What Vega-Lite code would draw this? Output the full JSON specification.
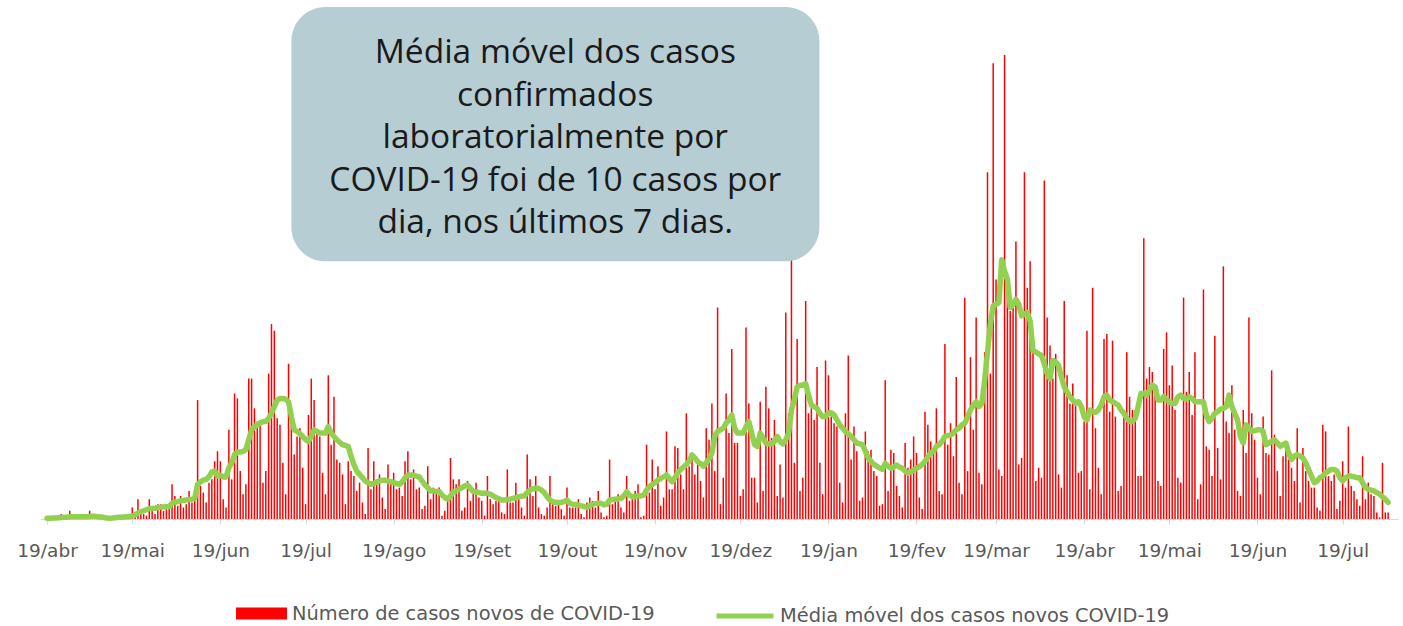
{
"$schema": "https://vega.github.io/schema/vega-lite/v6.json",
"width": 1358, "height": 512,
"autosize": "none",
"padding": {"left": 40, "top": 7, "right": 5, "bottom": 107},
"background": "white",
"config": {"view": {"stroke": null}, "font": "DejaVu Sans"},
"datasets": {"cases": [
{"d":"2020-04-19","c":1,"m":0.5},{"d":"2020-04-20","c":0,"m":0.5},{"d":"2020-04-21","c":1,"m":0.6},{"d":"2020-04-22","c":0,"m":0.6},{"d":"2020-04-23","c":1,"m":0.7},{"d":"2020-04-24","c":3,"m":0.9},{"d":"2020-04-25","c":0,"m":1},{"d":"2020-04-26","c":1,"m":1.1},{"d":"2020-04-27","c":5,"m":1.3},{"d":"2020-04-28","c":1,"m":1.4},{"d":"2020-04-29","c":0,"m":1.4},{"d":"2020-04-30","c":1,"m":1.4},
{"d":"2020-05-01","c":1,"m":1.4},{"d":"2020-05-02","c":0,"m":1.3},{"d":"2020-05-03","c":1,"m":1.3},{"d":"2020-05-04","c":5,"m":1.5},{"d":"2020-05-05","c":1,"m":1.6},{"d":"2020-05-06","c":3,"m":1.6},{"d":"2020-05-07","c":1,"m":1.4},{"d":"2020-05-08","c":0,"m":1.2},{"d":"2020-05-09","c":1,"m":0.9},{"d":"2020-05-10","c":0,"m":0.6},{"d":"2020-05-11","c":1,"m":0.5},{"d":"2020-05-12","c":1,"m":0.6},{"d":"2020-05-13","c":0,"m":0.8},{"d":"2020-05-14","c":1,"m":1},{"d":"2020-05-15","c":2,"m":1.1},{"d":"2020-05-16","c":1,"m":1.2},{"d":"2020-05-17","c":2,"m":1.3},{"d":"2020-05-18","c":1,"m":1.4},{"d":"2020-05-19","c":7,"m":1.8},{"d":"2020-05-20","c":3,"m":2.6},{"d":"2020-05-21","c":12,"m":3.6},{"d":"2020-05-22","c":4,"m":4.4},{"d":"2020-05-23","c":3,"m":5},{"d":"2020-05-24","c":2,"m":5.6},{"d":"2020-05-25","c":12,"m":6.2},{"d":"2020-05-26","c":5,"m":6.4},{"d":"2020-05-27","c":3,"m":6.5},{"d":"2020-05-28","c":9,"m":7},{"d":"2020-05-29","c":9,"m":7.2},{"d":"2020-05-30","c":5,"m":7.3},{"d":"2020-05-31","c":6,"m":7.4},
{"d":"2020-06-01","c":6,"m":7.5},{"d":"2020-06-02","c":21,"m":9.5},{"d":"2020-06-03","c":14,"m":10.3},{"d":"2020-06-04","c":8,"m":10.5},{"d":"2020-06-05","c":14,"m":11},{"d":"2020-06-06","c":7,"m":11.2},{"d":"2020-06-07","c":9,"m":11.5},{"d":"2020-06-08","c":17,"m":11.8},{"d":"2020-06-09","c":10,"m":12},{"d":"2020-06-10","c":11,"m":12.5},{"d":"2020-06-11","c":72,"m":21},{"d":"2020-06-12","c":20,"m":22.5},{"d":"2020-06-13","c":16,"m":23.5},{"d":"2020-06-14","c":10,"m":24},{"d":"2020-06-15","c":22,"m":25.5},{"d":"2020-06-16","c":24,"m":28.5},{"d":"2020-06-17","c":35,"m":29},{"d":"2020-06-18","c":41,"m":26},{"d":"2020-06-19","c":35,"m":26.5},{"d":"2020-06-20","c":12,"m":25.5},{"d":"2020-06-21","c":7,"m":25.5},{"d":"2020-06-22","c":54,"m":31},{"d":"2020-06-23","c":24,"m":34},{"d":"2020-06-24","c":76,"m":39},{"d":"2020-06-25","c":73,"m":40.5},{"d":"2020-06-26","c":29,"m":40.5},{"d":"2020-06-27","c":15,"m":41},{"d":"2020-06-28","c":21,"m":42},{"d":"2020-06-29","c":85,"m":48},{"d":"2020-06-30","c":85,"m":54},
{"d":"2020-07-01","c":67,"m":56},{"d":"2020-07-02","c":59,"m":57},{"d":"2020-07-03","c":60,"m":58},{"d":"2020-07-04","c":22,"m":59},{"d":"2020-07-05","c":29,"m":59},{"d":"2020-07-06","c":88,"m":61},{"d":"2020-07-07","c":118,"m":64},{"d":"2020-07-08","c":114,"m":68},{"d":"2020-07-09","c":61,"m":72},{"d":"2020-07-10","c":57,"m":73},{"d":"2020-07-11","c":34,"m":73},{"d":"2020-07-12","c":15,"m":72.5},{"d":"2020-07-13","c":94,"m":71},{"d":"2020-07-14","c":57,"m":62},{"d":"2020-07-15","c":39,"m":54},{"d":"2020-07-16","c":50,"m":53},{"d":"2020-07-17","c":55,"m":51.5},{"d":"2020-07-18","c":31,"m":50},{"d":"2020-07-19","c":9,"m":48},{"d":"2020-07-20","c":63,"m":47},{"d":"2020-07-21","c":85,"m":50},{"d":"2020-07-22","c":72,"m":54},{"d":"2020-07-23","c":52,"m":53},{"d":"2020-07-24","c":50,"m":52},{"d":"2020-07-25","c":28,"m":52},{"d":"2020-07-26","c":15,"m":52},{"d":"2020-07-27","c":87,"m":56},{"d":"2020-07-28","c":45,"m":52},{"d":"2020-07-29","c":74,"m":50},{"d":"2020-07-30","c":36,"m":48},{"d":"2020-07-31","c":34,"m":46.5},
{"d":"2020-08-01","c":27,"m":45},{"d":"2020-08-02","c":9,"m":44.5},{"d":"2020-08-03","c":35,"m":44},{"d":"2020-08-04","c":29,"m":38},{"d":"2020-08-05","c":26,"m":33},{"d":"2020-08-06","c":17,"m":29},{"d":"2020-08-07","c":22,"m":27},{"d":"2020-08-08","c":10,"m":25},{"d":"2020-08-09","c":3,"m":23},{"d":"2020-08-10","c":43,"m":22},{"d":"2020-08-11","c":18,"m":21},{"d":"2020-08-12","c":35,"m":21.5},{"d":"2020-08-13","c":24,"m":22.5},{"d":"2020-08-14","c":27,"m":23},{"d":"2020-08-15","c":13,"m":23.5},{"d":"2020-08-16","c":6,"m":23.5},{"d":"2020-08-17","c":33,"m":23},{"d":"2020-08-18","c":22,"m":22.6},{"d":"2020-08-19","c":28,"m":22},{"d":"2020-08-20","c":18,"m":21.5},{"d":"2020-08-21","c":19,"m":21},{"d":"2020-08-22","c":14,"m":22.5},{"d":"2020-08-23","c":35,"m":25},{"d":"2020-08-24","c":41,"m":26.5},{"d":"2020-08-25","c":24,"m":26.7},{"d":"2020-08-26","c":30,"m":26.5},{"d":"2020-08-27","c":18,"m":26},{"d":"2020-08-28","c":19,"m":25.5},{"d":"2020-08-29","c":6,"m":23},{"d":"2020-08-30","c":8,"m":20.6},{"d":"2020-08-31","c":32,"m":19},
{"d":"2020-09-01","c":12,"m":17},{"d":"2020-09-02","c":19,"m":17},{"d":"2020-09-03","c":17,"m":16.6},{"d":"2020-09-04","c":19,"m":16.6},{"d":"2020-09-05","c":2,"m":14.5},{"d":"2020-09-06","c":5,"m":13},{"d":"2020-09-07","c":11,"m":12},{"d":"2020-09-08","c":37,"m":14},{"d":"2020-09-09","c":24,"m":16.6},{"d":"2020-09-10","c":21,"m":17},{"d":"2020-09-11","c":24,"m":18},{"d":"2020-09-12","c":5,"m":19},{"d":"2020-09-13","c":7,"m":20},{"d":"2020-09-14","c":23,"m":20.6},{"d":"2020-09-15","c":11,"m":18.5},{"d":"2020-09-16","c":18,"m":16.6},{"d":"2020-09-17","c":22,"m":16.3},{"d":"2020-09-18","c":13,"m":16},{"d":"2020-09-19","c":11,"m":15.6},{"d":"2020-09-20","c":2,"m":15.6},{"d":"2020-09-21","c":26,"m":15.6},{"d":"2020-09-22","c":12,"m":15},{"d":"2020-09-23","c":9,"m":14},{"d":"2020-09-24","c":11,"m":13},{"d":"2020-09-25","c":11,"m":12.3},{"d":"2020-09-26","c":4,"m":11.5},{"d":"2020-09-27","c":3,"m":11.5},{"d":"2020-09-28","c":30,"m":11.8},{"d":"2020-09-29","c":10,"m":12},{"d":"2020-09-30","c":10,"m":12.5},
{"d":"2020-10-01","c":22,"m":13},{"d":"2020-10-02","c":12,"m":13.5},{"d":"2020-10-03","c":7,"m":13.8},{"d":"2020-10-04","c":2,"m":14},{"d":"2020-10-05","c":39,"m":16},{"d":"2020-10-06","c":24,"m":17.5},{"d":"2020-10-07","c":14,"m":18.3},{"d":"2020-10-08","c":26,"m":18.6},{"d":"2020-10-09","c":7,"m":18.5},{"d":"2020-10-10","c":3,"m":17.5},{"d":"2020-10-11","c":2,"m":16},{"d":"2020-10-12","c":7,"m":13.5},{"d":"2020-10-13","c":26,"m":11.5},{"d":"2020-10-14","c":9,"m":10.5},{"d":"2020-10-15","c":8,"m":10},{"d":"2020-10-16","c":9,"m":10},{"d":"2020-10-17","c":6,"m":10},{"d":"2020-10-18","c":2,"m":10.5},{"d":"2020-10-19","c":19,"m":11.5},{"d":"2020-10-20","c":7,"m":9.5},{"d":"2020-10-21","c":7,"m":9},{"d":"2020-10-22","c":7,"m":8.8},{"d":"2020-10-23","c":12,"m":8.5},{"d":"2020-10-24","c":3,"m":8},{"d":"2020-10-25","c":1,"m":7.5},{"d":"2020-10-26","c":10,"m":7},{"d":"2020-10-27","c":13,"m":8},{"d":"2020-10-28","c":11,"m":9},{"d":"2020-10-29","c":7,"m":9.3},{"d":"2020-10-30","c":17,"m":9.5},{"d":"2020-10-31","c":4,"m":9.5},
{"d":"2020-11-01","c":1,"m":8.5},{"d":"2020-11-02","c":2,"m":9},{"d":"2020-11-03","c":36,"m":11.5},{"d":"2020-11-04","c":9,"m":11.8},{"d":"2020-11-05","c":13,"m":12},{"d":"2020-11-06","c":15,"m":12.2},{"d":"2020-11-07","c":7,"m":12.5},{"d":"2020-11-08","c":4,"m":14},{"d":"2020-11-09","c":26,"m":16.5},{"d":"2020-11-10","c":11,"m":14.5},{"d":"2020-11-11","c":13,"m":13.5},{"d":"2020-11-12","c":17,"m":13.5},{"d":"2020-11-13","c":21,"m":14},{"d":"2020-11-14","c":1,"m":14},{"d":"2020-11-15","c":2,"m":14.5},{"d":"2020-11-16","c":45,"m":17.5},{"d":"2020-11-17","c":16,"m":19.5},{"d":"2020-11-18","c":36,"m":21},{"d":"2020-11-19","c":18,"m":22},{"d":"2020-11-20","c":32,"m":23.5},{"d":"2020-11-21","c":8,"m":24.6},{"d":"2020-11-22","c":13,"m":25.5},{"d":"2020-11-23","c":53,"m":26.7},{"d":"2020-11-24","c":18,"m":24.5},{"d":"2020-11-25","c":18,"m":22.6},{"d":"2020-11-26","c":44,"m":25},{"d":"2020-11-27","c":43,"m":28},{"d":"2020-11-28","c":27,"m":30},{"d":"2020-11-29","c":18,"m":31.5},{"d":"2020-11-30","c":64,"m":33},
{"d":"2020-12-01","c":32,"m":35},{"d":"2020-12-02","c":36,"m":38.8},{"d":"2020-12-03","c":27,"m":37},{"d":"2020-12-04","c":33,"m":34.7},{"d":"2020-12-05","c":23,"m":33.5},{"d":"2020-12-06","c":13,"m":32},{"d":"2020-12-07","c":55,"m":34},{"d":"2020-12-08","c":48,"m":36.5},{"d":"2020-12-09","c":70,"m":40},{"d":"2020-12-10","c":29,"m":50},{"d":"2020-12-11","c":128,"m":53},{"d":"2020-12-12","c":9,"m":54},{"d":"2020-12-13","c":25,"m":55},{"d":"2020-12-14","c":76,"m":58},{"d":"2020-12-15","c":52,"m":60},{"d":"2020-12-16","c":103,"m":63},{"d":"2020-12-17","c":46,"m":55},{"d":"2020-12-18","c":46,"m":52},{"d":"2020-12-19","c":14,"m":52},{"d":"2020-12-20","c":18,"m":52},{"d":"2020-12-21","c":116,"m":56},{"d":"2020-12-22","c":70,"m":59},{"d":"2020-12-23","c":25,"m":52},{"d":"2020-12-24","c":25,"m":45},{"d":"2020-12-25","c":10,"m":44},{"d":"2020-12-26","c":71,"m":52},{"d":"2020-12-27","c":17,"m":49},{"d":"2020-12-28","c":80,"m":46},{"d":"2020-12-29","c":67,"m":45.5},{"d":"2020-12-30","c":49,"m":45.5},{"d":"2020-12-31","c":60,"m":47},
{"d":"2021-01-01","c":14,"m":50},{"d":"2021-01-02","c":33,"m":47},{"d":"2021-01-03","c":13,"m":45.5},{"d":"2021-01-04","c":125,"m":48},{"d":"2021-01-05","c":64,"m":52},{"d":"2021-01-06","c":157,"m":66},{"d":"2021-01-07","c":34,"m":72},{"d":"2021-01-08","c":109,"m":80},{"d":"2021-01-09","c":17,"m":81},{"d":"2021-01-10","c":25,"m":81},{"d":"2021-01-11","c":132,"m":82},{"d":"2021-01-12","c":64,"m":75},{"d":"2021-01-13","c":67,"m":69},{"d":"2021-01-14","c":60,"m":68},{"d":"2021-01-15","c":92,"m":67},{"d":"2021-01-16","c":34,"m":64},{"d":"2021-01-17","c":15,"m":62},{"d":"2021-01-18","c":96,"m":62},{"d":"2021-01-19","c":87,"m":64},{"d":"2021-01-20","c":62,"m":64.4},{"d":"2021-01-21","c":58,"m":63},{"d":"2021-01-22","c":56,"m":60},{"d":"2021-01-23","c":22,"m":57},{"d":"2021-01-24","c":10,"m":55},{"d":"2021-01-25","c":64,"m":53},{"d":"2021-01-26","c":99,"m":51.5},{"d":"2021-01-27","c":36,"m":50},{"d":"2021-01-28","c":56,"m":48},{"d":"2021-01-29","c":41,"m":46},{"d":"2021-01-30","c":11,"m":45.5},{"d":"2021-01-31","c":13,"m":45},
{"d":"2021-02-01","c":53,"m":41},{"d":"2021-02-02","c":41,"m":37},{"d":"2021-02-03","c":42,"m":35},{"d":"2021-02-04","c":29,"m":33},{"d":"2021-02-05","c":26,"m":32},{"d":"2021-02-06","c":8,"m":31},{"d":"2021-02-07","c":9,"m":30},{"d":"2021-02-08","c":84,"m":33.7},{"d":"2021-02-09","c":17,"m":32},{"d":"2021-02-10","c":42,"m":30.7},{"d":"2021-02-11","c":40,"m":31.5},{"d":"2021-02-12","c":20,"m":32.7},{"d":"2021-02-13","c":14,"m":31.5},{"d":"2021-02-14","c":7,"m":30.7},{"d":"2021-02-15","c":46,"m":29},{"d":"2021-02-16","c":31,"m":27.7},{"d":"2021-02-17","c":36,"m":28.5},{"d":"2021-02-18","c":50,"m":29.7},{"d":"2021-02-19","c":40,"m":30.7},{"d":"2021-02-20","c":13,"m":31.7},{"d":"2021-02-21","c":6,"m":33},{"d":"2021-02-22","c":65,"m":35},{"d":"2021-02-23","c":57,"m":37.5},{"d":"2021-02-24","c":47,"m":40},{"d":"2021-02-25","c":40,"m":41},{"d":"2021-02-26","c":67,"m":44},{"d":"2021-02-27","c":17,"m":45},{"d":"2021-02-28","c":15,"m":47},
{"d":"2021-03-01","c":106,"m":50},{"d":"2021-03-02","c":45,"m":50.5},{"d":"2021-03-03","c":58,"m":51},{"d":"2021-03-04","c":38,"m":52},{"d":"2021-03-05","c":86,"m":54},{"d":"2021-03-06","c":22,"m":55},{"d":"2021-03-07","c":15,"m":57},{"d":"2021-03-08","c":134,"m":58},{"d":"2021-03-09","c":29,"m":62},{"d":"2021-03-10","c":98,"m":66},{"d":"2021-03-11","c":54,"m":69},{"d":"2021-03-12","c":122,"m":71},{"d":"2021-03-13","c":28,"m":68},{"d":"2021-03-14","c":21,"m":70},{"d":"2021-03-15","c":101,"m":84},{"d":"2021-03-16","c":210,"m":101},{"d":"2021-03-17","c":88,"m":118},{"d":"2021-03-18","c":276,"m":129},{"d":"2021-03-19","c":145,"m":130},{"d":"2021-03-20","c":30,"m":131},{"d":"2021-03-21","c":26,"m":157},{"d":"2021-03-22","c":281,"m":150},{"d":"2021-03-23","c":149,"m":145},{"d":"2021-03-24","c":126,"m":128},{"d":"2021-03-25","c":131,"m":130},{"d":"2021-03-26","c":168,"m":133},{"d":"2021-03-27","c":33,"m":130},{"d":"2021-03-28","c":37,"m":123},{"d":"2021-03-29","c":210,"m":124},{"d":"2021-03-30","c":140,"m":125},{"d":"2021-03-31","c":156,"m":120},
{"d":"2021-04-01","c":102,"m":102},{"d":"2021-04-02","c":23,"m":101},{"d":"2021-04-03","c":31,"m":100},{"d":"2021-04-04","c":25,"m":99},{"d":"2021-04-05","c":205,"m":94},{"d":"2021-04-06","c":122,"m":88},{"d":"2021-04-07","c":105,"m":85},{"d":"2021-04-08","c":85,"m":96},{"d":"2021-04-09","c":100,"m":95},{"d":"2021-04-10","c":27,"m":93},{"d":"2021-04-11","c":19,"m":86},{"d":"2021-04-12","c":132,"m":80},{"d":"2021-04-13","c":87,"m":77},{"d":"2021-04-14","c":70,"m":74},{"d":"2021-04-15","c":82,"m":72},{"d":"2021-04-16","c":70,"m":70},{"d":"2021-04-17","c":28,"m":71},{"d":"2021-04-18","c":29,"m":68},{"d":"2021-04-19","c":59,"m":62},{"d":"2021-04-20","c":114,"m":60},{"d":"2021-04-21","c":18,"m":66},{"d":"2021-04-22","c":140,"m":65},{"d":"2021-04-23","c":55,"m":64.5},{"d":"2021-04-24","c":31,"m":66},{"d":"2021-04-25","c":15,"m":69},{"d":"2021-04-26","c":109,"m":74},{"d":"2021-04-27","c":112,"m":75},{"d":"2021-04-28","c":65,"m":72},{"d":"2021-04-29","c":108,"m":71},{"d":"2021-04-30","c":62,"m":70},
{"d":"2021-05-01","c":17,"m":69},{"d":"2021-05-02","c":20,"m":66},{"d":"2021-05-03","c":64,"m":64},{"d":"2021-05-04","c":101,"m":61},{"d":"2021-05-05","c":74,"m":59},{"d":"2021-05-06","c":66,"m":59},{"d":"2021-05-07","c":66,"m":61},{"d":"2021-05-08","c":26,"m":68},{"d":"2021-05-09","c":26,"m":76},{"d":"2021-05-10","c":170,"m":76},{"d":"2021-05-11","c":85,"m":75},{"d":"2021-05-12","c":92,"m":78},{"d":"2021-05-13","c":89,"m":81},{"d":"2021-05-14","c":80,"m":80},{"d":"2021-05-15","c":23,"m":72},{"d":"2021-05-16","c":20,"m":72},{"d":"2021-05-17","c":103,"m":74},{"d":"2021-05-18","c":113,"m":72},{"d":"2021-05-19","c":81,"m":71},{"d":"2021-05-20","c":93,"m":70},{"d":"2021-05-21","c":66,"m":70},{"d":"2021-05-22","c":25,"m":74},{"d":"2021-05-23","c":22,"m":75},{"d":"2021-05-24","c":134,"m":73},{"d":"2021-05-25","c":77,"m":72.5},{"d":"2021-05-26","c":89,"m":74},{"d":"2021-05-27","c":63,"m":73},{"d":"2021-05-28","c":101,"m":71},{"d":"2021-05-29","c":12,"m":71},{"d":"2021-05-30","c":21,"m":71},{"d":"2021-05-31","c":139,"m":71},
{"d":"2021-06-01","c":44,"m":63},{"d":"2021-06-02","c":42,"m":59},{"d":"2021-06-03","c":26,"m":61},{"d":"2021-06-04","c":111,"m":64},{"d":"2021-06-05","c":43,"m":65},{"d":"2021-06-06","c":24,"m":66.5},{"d":"2021-06-07","c":153,"m":67},{"d":"2021-06-08","c":59,"m":68},{"d":"2021-06-09","c":52,"m":75},{"d":"2021-06-10","c":81,"m":68},{"d":"2021-06-11","c":54,"m":64},{"d":"2021-06-12","c":17,"m":60},{"d":"2021-06-13","c":14,"m":50},{"d":"2021-06-14","c":66,"m":46},{"d":"2021-06-15","c":40,"m":57},{"d":"2021-06-16","c":122,"m":55},{"d":"2021-06-17","c":64,"m":53},{"d":"2021-06-18","c":48,"m":53.5},{"d":"2021-06-19","c":25,"m":54},{"d":"2021-06-20","c":15,"m":54},{"d":"2021-06-21","c":62,"m":53},{"d":"2021-06-22","c":40,"m":45},{"d":"2021-06-23","c":39,"m":46},{"d":"2021-06-24","c":90,"m":47},{"d":"2021-06-25","c":51,"m":48},{"d":"2021-06-26","c":29,"m":46},{"d":"2021-06-27","c":14,"m":44},{"d":"2021-06-28","c":38,"m":45},{"d":"2021-06-29","c":42,"m":46},{"d":"2021-06-30","c":36,"m":40},
{"d":"2021-07-01","c":31,"m":36},{"d":"2021-07-02","c":23,"m":38},{"d":"2021-07-03","c":55,"m":39},{"d":"2021-07-04","c":10,"m":38},{"d":"2021-07-05","c":43,"m":37},{"d":"2021-07-06","c":29,"m":34},{"d":"2021-07-07","c":23,"m":30},{"d":"2021-07-08","c":19,"m":26},{"d":"2021-07-09","c":19,"m":22},{"d":"2021-07-10","c":7,"m":23},{"d":"2021-07-11","c":5,"m":25},{"d":"2021-07-12","c":57,"m":26},{"d":"2021-07-13","c":53,"m":28},{"d":"2021-07-14","c":26,"m":29},{"d":"2021-07-15","c":23,"m":30},{"d":"2021-07-16","c":27,"m":30},{"d":"2021-07-17","c":6,"m":29},{"d":"2021-07-18","c":11,"m":25},{"d":"2021-07-19","c":35,"m":23},{"d":"2021-07-20","c":19,"m":25},{"d":"2021-07-21","c":56,"m":26},{"d":"2021-07-22","c":20,"m":26},{"d":"2021-07-23","c":17,"m":25.5},{"d":"2021-07-24","c":12,"m":25},{"d":"2021-07-25","c":8,"m":25},{"d":"2021-07-26","c":38,"m":22},{"d":"2021-07-27","c":12,"m":19},{"d":"2021-07-28","c":22,"m":18},{"d":"2021-07-29","c":15,"m":17.5},{"d":"2021-07-30","c":14,"m":17},{"d":"2021-07-31","c":4,"m":16},
{"d":"2021-08-01","c":1,"m":15},{"d":"2021-08-02","c":34,"m":13.5},{"d":"2021-08-03","c":4,"m":12},{"d":"2021-08-04","c":4,"m":10}
],
"box": [{"x1": "2020-07-14T00:00:00Z", "x2": "2021-01-15T20:00:00Z", "y1": 156, "y2": 310, "xc": "2020-10-14T21:00:00Z", "yc": 282}]
},
"layer": [
  {"data": {"name": "cases"},
   "mark": {"type": "bar", "width": 1.5},
   "encoding": {
     "x": {"field": "d", "type": "temporal",
       "scale": {"type": "utc", "domain": [{"year": 2020, "month": 4, "date": 18, "hours": 7, "utc": true}, {"year": 2021, "month": 8, "date": 5, "hours": 17, "utc": true}]},
       "axis": {"title": null, "grid": false, "domainColor": "#d9d9d9", "domainWidth": 1, "tickColor": "#d9d9d9", "tickSize": 5, "labelPadding": 17, "labelFontSize": 18.5, "labelColor": "#595959", "labelFont": "DejaVu Sans", "labelOverlap": false, "labelFlush": false,
         "values": [
           {"year": 2020, "month": 4, "date": 19, "utc": true}, {"year": 2020, "month": 5, "date": 19, "utc": true}, {"year": 2020, "month": 6, "date": 19, "utc": true}, {"year": 2020, "month": 7, "date": 19, "utc": true}, {"year": 2020, "month": 8, "date": 19, "utc": true}, {"year": 2020, "month": 9, "date": 19, "utc": true}, {"year": 2020, "month": 10, "date": 19, "utc": true}, {"year": 2020, "month": 11, "date": 19, "utc": true}, {"year": 2020, "month": 12, "date": 19, "utc": true},
           {"year": 2021, "month": 1, "date": 19, "utc": true}, {"year": 2021, "month": 2, "date": 19, "utc": true}, {"year": 2021, "month": 3, "date": 19, "utc": true}, {"year": 2021, "month": 4, "date": 19, "utc": true}, {"year": 2021, "month": 5, "date": 19, "utc": true}, {"year": 2021, "month": 6, "date": 19, "utc": true}, {"year": 2021, "month": 7, "date": 19, "utc": true}],
         "labelExpr": "'19/' + ['jan','fev','mar','abr','mai','jun','jul','ago','set','out','nov','dez'][utcmonth(datum.value)]"}},
     "y": {"field": "c", "type": "quantitative", "scale": {"domain": [0, 310], "nice": false}, "axis": null},
     "fill": {"datum": "Número de casos novos de COVID-19", "type": "nominal", "scale": {"range": ["#ff0000"]},
       "legend": {"orient": "none", "legendX": 196, "legendY": 581, "title": null, "symbolType": "M-1,-0.24H1V0.24H-1Z", "symbolSize": 2601, "symbolStrokeWidth": 0, "labelFontSize": 19.4, "labelColor": "#595959", "labelFont": "DejaVu Sans", "labelOffset": 5, "labelLimit": 0, "padding": 0}}
   }},
  {"data": {"name": "cases"},
   "mark": {"type": "line", "strokeWidth": 5.5, "strokeCap": "round", "strokeJoin": "round"},
   "encoding": {
     "x": {"field": "d", "type": "temporal"},
     "y": {"field": "m", "type": "quantitative", "scale": {"domain": [0, 310], "nice": false}},
     "stroke": {"datum": "Média móvel dos casos novos COVID-19", "type": "nominal", "scale": {"range": ["#92d050"]},
       "legend": {"orient": "none", "legendX": 674, "legendY": 578, "title": null, "symbolType": "stroke", "symbolSize": 3249, "symbolStrokeWidth": 5, "labelFontSize": 19.4, "labelColor": "#595959", "labelFont": "DejaVu Sans", "labelOffset": 4, "labelLimit": 0, "padding": 0}}
   }},
  {"data": {"name": "box"},
   "mark": {"type": "rect", "cornerRadius": 34, "fill": "#b6cdd4"},
   "encoding": {
     "x": {"field": "x1", "type": "temporal"},
     "x2": {"field": "x2"},
     "y": {"field": "y1", "type": "quantitative", "scale": {"domain": [0, 310], "nice": false}},
     "y2": {"field": "y2"}
   }},
  {"data": {"name": "box"},
   "mark": {"type": "text", "font": "Open Sans", "fontSize": 33.5, "color": "#1a1a1a", "align": "center", "baseline": "middle", "lineHeight": 42.5},
   "encoding": {
     "x": {"field": "xc", "type": "temporal"},
     "y": {"field": "yc", "type": "quantitative", "scale": {"domain": [0, 310], "nice": false}},
     "text": {"value": ["Média móvel dos casos", "confirmados", "laboratorialmente por", "COVID-19 foi de 10 casos por", "dia, nos últimos 7 dias."]}
   }}
]
}
